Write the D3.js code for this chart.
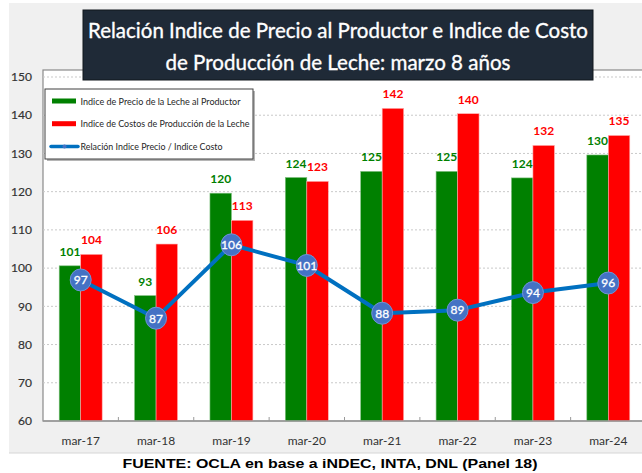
<!DOCTYPE html>
<html>
<head>
<meta charset="utf-8">
<script src="https://cdn.jsdelivr.net/npm/d3@7"></script>
<style>
  html, body { margin: 0; padding: 0; background: #ffffff; }
  svg { display: block; }
</style>
</head>
<body>
<div id="chart"></div>
<script>
// ─── Data ───
const categories = ["mar-17", "mar-18", "mar-19", "mar-20", "mar-21", "mar-22", "mar-23", "mar-24"];
const precioValues = [100.6, 92.8, 119.6, 123.7, 125.3, 125.3, 123.6, 129.6];
const costoValues = [103.6, 106.3, 112.5, 122.7, 141.8, 140.4, 132.1, 134.7];
const relacionValues = [96.9, 86.9, 106.1, 100.7, 88.2, 89.0, 93.6, 96.1];
const yTicks = [60, 70, 80, 90, 100, 110, 120, 130, 140, 150];
const titleLines = [
  "Relación Indice de Precio al Productor e Indice de Costo",
  "de Producción de Leche: marzo 8 años"
];
const legendLabels = [
  "Indice de Precio de la Leche al Productor",
  "Indice de Costos de Producción de la Leche",
  "Relación Indice Precio / Indice Costo"
];
const sourceNote = "FUENTE: OCLA en base a iNDEC, INTA, DNL (Panel 18)";

const width = 642, height = 473;
const GREEN = "#008000", RED = "#ff0000", BLUE_LINE = "#0070c0", BLUE_DOT = "#4472c4";
const FONT = "Lato, 'Open Sans', sans-serif";

const svg = d3.select("#chart").append("svg")
  .attr("width", width)
  .attr("height", height);

// outer grey panel
svg.append("rect")
  .attr("x", 9).attr("y", 3)
  .attr("width", width - 9).attr("height", 450)
  .attr("fill", "#f0f0f0");
svg.append("line")
  .attr("x1", 9).attr("x2", width)
  .attr("y1", 453).attr("y2", 453)
  .attr("stroke", "#d6d6d6");

// plot area
const plot = { left: 43, top: 70, right: 646, bottom: 421 };

svg.append("rect")
  .attr("x", plot.left).attr("y", plot.top)
  .attr("width", plot.right - plot.left).attr("height", plot.bottom - plot.top)
  .attr("fill", "#ffffff")
  .attr("stroke", "#8a8a8a")
  .attr("stroke-width", 1.2);

const y = d3.scaleLinear()
  .domain([60, 150])
  .range([plot.bottom, 77]);

const x0 = d3.scaleBand()
  .domain(categories)
  .range([plot.left, plot.right])
  .paddingInner(0.43)
  .paddingOuter(0.215);

const x1 = d3.scaleBand()
  .domain(["precio", "costo"])
  .range([0, x0.bandwidth()]);

// gridlines
svg.append("g")
  .selectAll("line")
  .data(yTicks.filter(t => t > 60))
  .join("line")
  .attr("x1", plot.left).attr("x2", width)
  .attr("y1", d => y(d)).attr("y2", d => y(d))
  .attr("stroke", "#c9c9c9")
  .attr("stroke-width", 1)
  .attr("stroke-dasharray", "2,2");

// y axis labels
svg.append("g")
  .selectAll("text")
  .data(yTicks)
  .join("text")
  .attr("x", 32)
  .attr("y", d => y(d))
  .attr("dy", "0.35em")
  .attr("text-anchor", "end")
  .attr("font-family", FONT)
  .attr("font-size", 12)
  .attr("fill", "#333333")
  .attr("stroke", "#333333")
  .attr("stroke-width", 0.2)
  .text(d => d);

// bars
const rows = categories.map((c, i) => ({
  cat: c,
  precio: precioValues[i],
  costo: costoValues[i],
  relacion: relacionValues[i]
}));

const groups = svg.append("g")
  .selectAll("g")
  .data(rows)
  .join("g")
  .attr("transform", d => `translate(${x0(d.cat)},0)`);

groups.append("rect")
  .attr("x", x1("precio"))
  .attr("y", d => y(d.precio))
  .attr("width", x1.bandwidth())
  .attr("height", d => y(60) - y(d.precio))
  .attr("fill", GREEN)
  .attr("stroke", "#7fbf7f")
  .attr("stroke-width", 0.6);

groups.append("rect")
  .attr("x", x1("costo"))
  .attr("y", d => y(d.costo))
  .attr("width", x1.bandwidth())
  .attr("height", d => y(60) - y(d.costo))
  .attr("fill", RED)
  .attr("stroke", "#ffb0b0")
  .attr("stroke-width", 0.6);

// value labels
groups.append("text")
  .attr("x", x1("precio") + x1.bandwidth() / 2)
  .attr("y", d => y(d.precio) - 10)
  .attr("text-anchor", "middle")
  .attr("font-family", FONT)
  .attr("font-weight", "bold")
  .attr("font-size", 12)
  .attr("fill", GREEN)
  .text(d => Math.round(d.precio));

groups.append("text")
  .attr("x", x1("costo") + x1.bandwidth() / 2)
  .attr("y", d => y(d.costo) - 10)
  .attr("text-anchor", "middle")
  .attr("font-family", FONT)
  .attr("font-weight", "bold")
  .attr("font-size", 12)
  .attr("fill", RED)
  .text(d => Math.round(d.costo));

// x axis
svg.append("line")
  .attr("x1", plot.left).attr("x2", width)
  .attr("y1", plot.bottom).attr("y2", plot.bottom)
  .attr("stroke", "#9a9a9a")
  .attr("stroke-width", 1.5);

svg.append("g")
  .selectAll("line")
  .data(categories.slice(1))
  .join("line")
  .attr("x1", d => x0(d) - x0.step() * x0.paddingInner() / 2)
  .attr("x2", d => x0(d) - x0.step() * x0.paddingInner() / 2)
  .attr("y1", plot.bottom).attr("y2", plot.bottom - 4)
  .attr("stroke", "#9a9a9a");

svg.append("g")
  .selectAll("text")
  .data(categories)
  .join("text")
  .attr("x", d => x0(d) + x0.bandwidth() / 2)
  .attr("y", 445)
  .attr("text-anchor", "middle")
  .attr("font-family", FONT)
  .attr("font-size", 12)
  .attr("fill", "#333333")
  .text(d => d);

// ratio line
const line = d3.line()
  .x(d => x0(d.cat) + x0.bandwidth() / 2)
  .y(d => y(d.relacion));

svg.append("path")
  .datum(rows)
  .attr("d", line)
  .attr("fill", "none")
  .attr("stroke", BLUE_LINE)
  .attr("stroke-width", 4)
  .attr("stroke-linejoin", "round");

const dots = svg.append("g")
  .selectAll("g")
  .data(rows)
  .join("g")
  .attr("transform", d => `translate(${x0(d.cat) + x0.bandwidth() / 2},${y(d.relacion)})`);

dots.append("ellipse")
  .attr("rx", 10.5)
  .attr("ry", 11)
  .attr("fill", BLUE_DOT)
  .attr("stroke", "#6f94d6")
  .attr("stroke-width", 1);

dots.append("text")
  .attr("dy", "0.36em")
  .attr("text-anchor", "middle")
  .attr("font-family", FONT)
  .attr("font-size", 12)
  .attr("fill", "#ffffff")
  .attr("stroke", "#ffffff")
  .attr("stroke-width", 0.3)
  .text(d => Math.round(d.relacion));

// title box
svg.append("rect")
  .attr("x", 83).attr("y", 10)
  .attr("width", 510).attr("height", 70)
  .attr("fill", "#1f2a37")
  .attr("stroke", "#10161d")
  .attr("stroke-width", 1);

svg.selectAll("text.title")
  .data(titleLines)
  .join("text")
  .attr("class", "title")
  .attr("x", 338)
  .attr("y", (d, i) => i === 0 ? 37.5 : 70)
  .attr("text-anchor", "middle")
  .attr("font-family", FONT)
  .attr("font-size", 22)
  .attr("fill", "#ffffff")
  .attr("stroke", "#ffffff")
  .attr("stroke-width", 0.35)
  .attr("textLength", (d, i) => i === 0 ? 500 : 345)
  .attr("lengthAdjust", "spacingAndGlyphs")
  .text(d => d);

// legend
const legend = svg.append("g").attr("transform", "translate(45,89)");

legend.append("rect")
  .attr("x", 2).attr("y", 2)
  .attr("width", 208).attr("height", 70)
  .attr("fill", "#b5b5b5");
legend.append("rect")
  .attr("width", 208).attr("height", 70)
  .attr("fill", "#ffffff")
  .attr("stroke", "#404040")
  .attr("stroke-width", 1);

const legendRows = [
  { label: legendLabels[0], color: GREEN, len: 160 },
  { label: legendLabels[1], color: RED, len: 169 },
  { label: legendLabels[2], color: BLUE_LINE, len: 142 }
];

const legendItem = legend.selectAll("g.item")
  .data(legendRows)
  .join("g")
  .attr("class", "item")
  .attr("transform", (d, i) => `translate(0,${12 + i * 22.7})`);

legendItem.filter((d, i) => i < 2).append("rect")
  .attr("x", 7).attr("y", -2.5)
  .attr("width", 24).attr("height", 5)
  .attr("fill", d => d.color);

const blueItem = legendItem.filter((d, i) => i === 2);
blueItem.append("line")
  .attr("x1", 6).attr("x2", 33)
  .attr("y1", 0).attr("y2", 0)
  .attr("stroke", BLUE_LINE)
  .attr("stroke-width", 3.5)
  .attr("stroke-linecap", "round");
blueItem.append("circle")
  .attr("cx", 19.5).attr("cy", 0)
  .attr("r", 2)
  .attr("fill", BLUE_DOT);

legendItem.append("text")
  .attr("x", 35.5)
  .attr("y", 0)
  .attr("dy", "0.35em")
  .attr("font-family", FONT)
  .attr("font-size", 10)
  .attr("fill", "#262626")
  .attr("textLength", d => d.len)
  .attr("lengthAdjust", "spacingAndGlyphs")
  .text(d => d.label);

// source note
svg.append("text")
  .attr("x", 330).attr("y", 468)
  .attr("text-anchor", "middle")
  .attr("font-family", "'Liberation Sans', Arial, sans-serif")
  .attr("font-weight", "bold")
  .attr("font-size", 13)
  .attr("fill", "#000000")
  .attr("textLength", 415)
  .attr("lengthAdjust", "spacingAndGlyphs")
  .text(sourceNote);
</script>
</body>
</html>
